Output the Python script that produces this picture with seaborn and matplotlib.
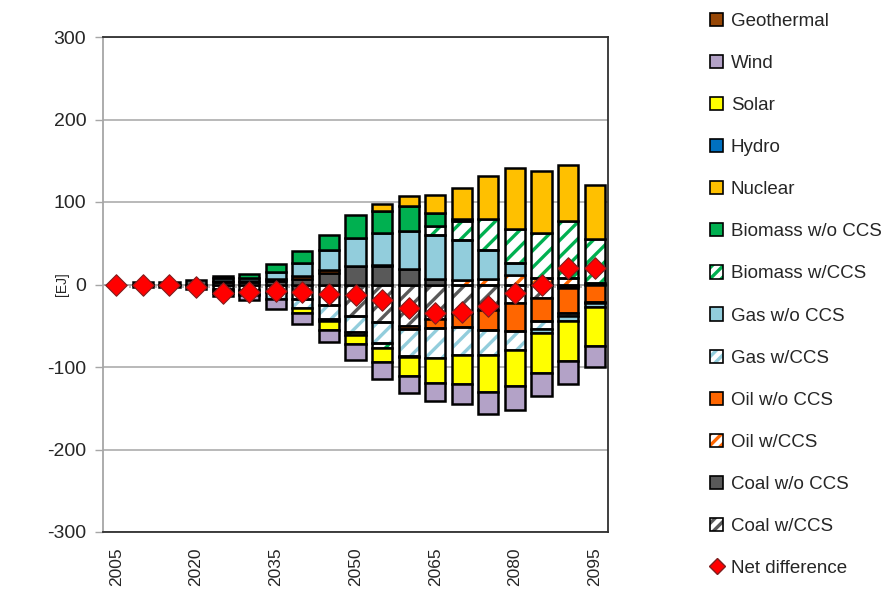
import numpy as np
import matplotlib
matplotlib.use("Agg")
import matplotlib.pyplot as plt
import seaborn as sns
import pandas as pd
from matplotlib.patches import Patch
from matplotlib.lines import Line2D

years = [2005, 2010, 2015, 2020, 2025, 2030, 2035, 2040, 2045, 2050,
         2055, 2060, 2065, 2070, 2075, 2080, 2085, 2090, 2095]
tick_years = [2005, 2020, 2035, 2050, 2065, 2080, 2095]

coal_ccs   = [0, -3, -3, -5, -5, -7, -9, -17, -25, -38, -46, -50, -42, -34, -31, -23, -16, -2, 0]
coal_noccs = [0, 3, 3, 5, 3, 3, 4, 7, 14, 22, 23, 19, 7, 0, 0, 0, 0, -2, 2]
oil_ccs    = [0, 0, 0, 0, 0, 0, 0, 0, 0, 0, 0, 0, 0, 5, 7, 12, 8, 8, 0]
oil_noccs  = [0, 0, 0, 0, 1, 1, 3, 3, 4, 1, 1, -4, -11, -17, -24, -33, -28, -30, -21]
gas_ccs    = [0, 0, 0, 0, -3, -4, -9, -11, -17, -20, -25, -33, -36, -35, -31, -23, -10, -4, -1]
gas_noccs  = [0, 0, 0, 0, 4, 4, 8, 16, 24, 33, 38, 46, 53, 49, 35, 14, -5, -6, -5]
bio_ccs    = [0, 0, 0, 0, -2, -2, 0, 0, -2, -3, -6, -1, 11, 23, 37, 41, 55, 69, 53]
bio_noccs  = [0, 0, 0, 0, 2, 5, 10, 15, 18, 28, 27, 30, 16, 3, 0, 0, 0, 0, 0]
nuclear    = [0, 0, 0, 0, 0, 0, 0, 0, 0, 0, 9, 12, 22, 37, 52, 74, 74, 68, 66]
hydro      = [0] * 19
solar      = [0, 0, 0, 0, 0, 0, 0, -7, -11, -11, -17, -23, -30, -35, -44, -44, -48, -49, -48]
wind       = [0, 0, 0, 0, -4, -6, -12, -13, -15, -20, -21, -21, -22, -24, -27, -29, -28, -28, -25]
geothermal = [0] * 19
net_diff   = [0, 0, 0, -3, -10, -9, -8, -9, -11, -13, -19, -28, -34, -33, -26, -10, 0, 20, 20]

# stacking order (from zero outward)
series = [
    ("Coal w/CCS", coal_ccs, "#595959", True),
    ("Coal w/o CCS", coal_noccs, "#595959", False),
    ("Oil w/CCS", oil_ccs, "#FF6600", True),
    ("Oil w/o CCS", oil_noccs, "#FF6600", False),
    ("Gas w/CCS", gas_ccs, "#92CDDC", True),
    ("Gas w/o CCS", gas_noccs, "#92CDDC", False),
    ("Biomass w/CCS", bio_ccs, "#00B050", True),
    ("Biomass w/o CCS", bio_noccs, "#00B050", False),
    ("Nuclear", nuclear, "#FFC000", False),
    ("Hydro", hydro, "#0070C0", False),
    ("Solar", solar, "#FFFF00", False),
    ("Wind", wind, "#B3A2C7", False),
    ("Geothermal", geothermal, "#974706", False),
]

sns.set_theme(style="white")
plt.rcParams["font.family"] = ["Liberation Sans", "DejaVu Sans"]
plt.rcParams["hatch.linewidth"] = 2.4

fig = plt.figure(figsize=(8.9, 5.94), dpi=100)
ax = fig.add_axes([103 / 890, 1 - 532 / 594, (608 - 103) / 890, (532 - 37) / 594])

x = np.arange(len(years))
width = 0.76
pos = np.zeros(len(years))
neg = np.zeros(len(years))
for name, vals, color, hatched in series:
    v = np.array(vals, dtype=float)
    bottom = np.where(v >= 0, pos, neg)
    m = v != 0
    if m.any():
        if hatched:
            ax.bar(x[m], v[m], width, bottom=bottom[m], color="white",
                   edgecolor=color, hatch="//", linewidth=0, zorder=3)
            ax.bar(x[m], v[m], width, bottom=bottom[m], fill=False,
                   edgecolor="black", linewidth=1.8, zorder=4)
        else:
            ax.bar(x[m], v[m], width, bottom=bottom[m], color=color,
                   edgecolor="black", linewidth=1.8, zorder=4)
    pos = pos + np.where(v > 0, v, 0)
    neg = neg + np.where(v < 0, v, 0)

df = pd.DataFrame({"x": x, "net": net_diff})
sns.scatterplot(data=df, x="x", y="net", marker="D", s=120, color="#FF0000",
                edgecolor="#7F1F1F", linewidth=0.8, zorder=6, ax=ax, legend=False)

ax.set_xlim(-0.5, len(years) - 0.5)
ax.set_ylim(-300, 300)
ax.set_yticks([-300, -200, -100, 0, 100, 200, 300])
ax.set_yticklabels(["-300", "-200", "-100", "0", "100", "200", "300"])
ax.yaxis.grid(True, color="#A6A6A6", linewidth=1.1, zorder=0)
ax.set_axisbelow(True)
ax.axhline(0, color="#A6A6A6", linewidth=1.3, zorder=2)
ax.vlines(x[:-1] + 0.5, -4, 0, color="#A6A6A6", linewidth=1.1, zorder=2)

tick_idx = [years.index(t) for t in tick_years]
ax.set_xticks(tick_idx)
ax.set_xticklabels([str(t) for t in tick_years], rotation=90, fontsize=12.5, color="#262626")
ax.tick_params(axis="x", length=0, pad=11)
ax.tick_params(axis="y", length=6, width=1, color="#A6A6A6", labelsize=14,
               labelcolor="#262626", pad=6, left=True)
ax.set_xlabel("")
ax.set_ylabel("")
for s in ["top", "right", "bottom"]:
    ax.spines[s].set_color("#303030")
    ax.spines[s].set_linewidth(1.3)
ax.spines["left"].set_color("#A6A6A6")
ax.spines["left"].set_linewidth(1.3)

fig.text(62 / 890, 1 - 284 / 594, "[EJ]", rotation=90, fontsize=10,
         ha="center", va="center", color="#262626")

# legend (Excel order: reverse of stacking)
handles, labels = [], []
for name, vals, color, hatched in reversed(series):
    if hatched:
        h = (Patch(facecolor="white", edgecolor=color, hatch="///", linewidth=0),
             Patch(fill=False, edgecolor="black", linewidth=1.2))
    else:
        h = Patch(facecolor=color, edgecolor="black", linewidth=1.2)
    handles.append(h)
    labels.append(name)
handles.append(Line2D([], [], marker="D", linestyle="none", markerfacecolor="#FF0000",
                      markeredgecolor="#7F1F1F", markersize=8))
labels.append("Net difference")

fig.legend(handles, labels, loc="upper left", bbox_to_anchor=(710 / 890, 1 - 13 / 594),
           frameon=False, fontsize=13.5, handlelength=0.7, handleheight=0.7,
           handletextpad=0.4, labelspacing=1.33, borderpad=0, borderaxespad=0)

fig.savefig("out.png", dpi=100)
